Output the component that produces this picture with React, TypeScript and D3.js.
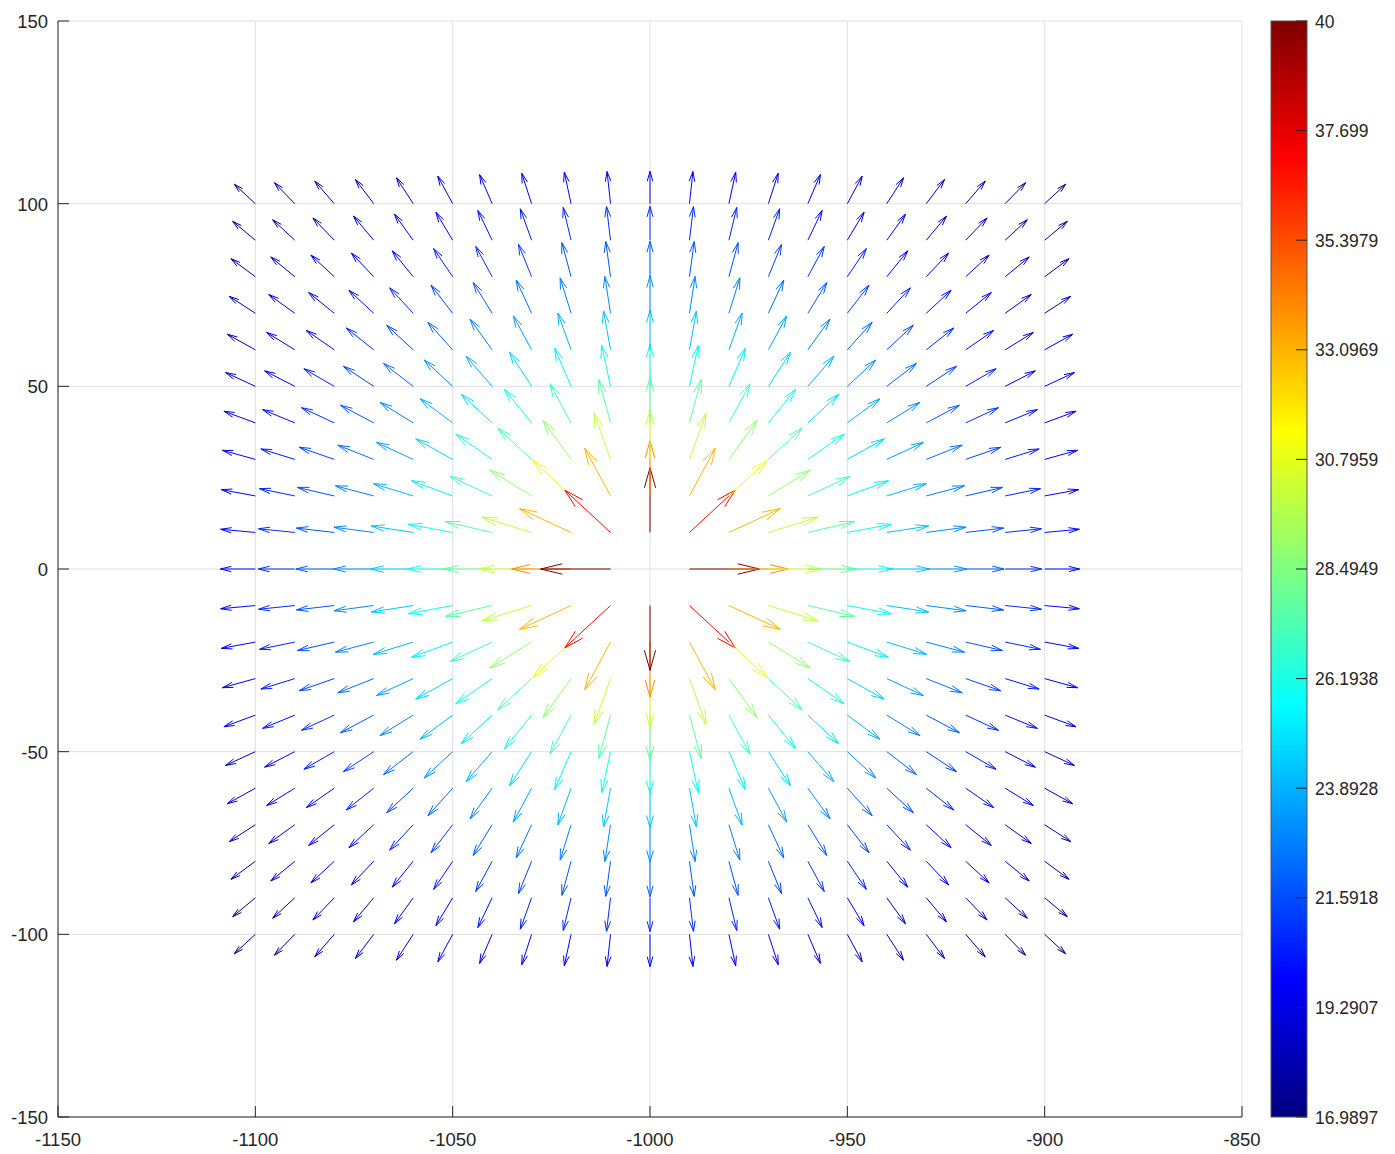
import React from 'react';
import * as d3 from 'd3';

// ---- data ----
const gridX = [-1100, -1090, -1080, -1070, -1060, -1050, -1040, -1030, -1020, -1010, -1000, -990, -980, -970, -960, -950, -940, -930, -920, -910, -900];
const gridY = [-100, -90, -80, -70, -60, -50, -40, -30, -20, -10, 0, 10, 20, 30, 40, 50, 60, 70, 80, 90, 100];
const sourceX = -1000;
const sourceY = 0;
const levelAtUnitDb = 60; // field level (dB) at unit distance, falls 20 dB / decade
const xTicks = [-1150, -1100, -1050, -1000, -950, -900, -850];
const yTicks = [-150, -100, -50, 0, 50, 100, 150];
const colorTicks = [16.9897, 19.2907, 21.5918, 23.8928, 26.1938, 28.4949, 30.7959, 33.0969, 35.3979, 37.699, 40];
const colorTickLabels = ['16.9897', '19.2907', '21.5918', '23.8928', '26.1938', '28.4949', '30.7959', '33.0969', '35.3979', '37.699', '40'];

// ---- layout ----
const W = 1395;
const H = 1154;
const plot = { left: 58, right: 1242, top: 21, bottom: 1117 };
const cbar = { left: 1271, right: 1307 };
const arrowScale = 0.443; // data units per dB
const headAlpha = 0.31;
const headBeta = 0.26;
const font = "'Liberation Sans', Arial, Helvetica, sans-serif";
const textColor = '#262626';

function jet(t: number): string {
  const c = (v: number) => Math.max(0, Math.min(1, v));
  const r = c(1.5 - Math.abs(4 * t - 3));
  const g = c(1.5 - Math.abs(4 * t - 2));
  const b = c(1.5 - Math.abs(4 * t - 1));
  return d3.rgb(Math.round(r * 255), Math.round(g * 255), Math.round(b * 255)).formatHex();
}

interface Arrow { x: number; y: number; u: number; v: number; db: number; }

function buildArrows(): Arrow[] {
  const out: Arrow[] = [];
  for (const x of gridX) {
    for (const y of gridY) {
      const dx = x - sourceX;
      const dy = y - sourceY;
      const r = Math.hypot(dx, dy);
      if (r === 0) continue;
      const db = levelAtUnitDb - 20 * Math.log10(r);
      out.push({ x, y, u: (db * dx) / r, v: (db * dy) / r, db });
    }
  }
  return out;
}

export default function App() {
  const xs = d3.scaleLinear().domain([-1150, -850]).range([plot.left, plot.right]);
  const ys = d3.scaleLinear().domain([-150, 150]).range([plot.bottom, plot.top]);
  const cmin = colorTicks[0];
  const cmax = colorTicks[colorTicks.length - 1];
  const cs = d3.scaleLinear().domain([cmin, cmax]).range([0, 1]).clamp(true);
  const cy = d3.scaleLinear().domain([cmin, cmax]).range([plot.bottom, plot.top]);
  const arrows = buildArrows();

  const nStops = 129;
  const stops = d3.range(nStops).map(i => i / (nStops - 1));

  return (
    <svg width={W} height={H} style={{ position: 'absolute', left: 0, top: 0, display: 'block', background: '#fff' }}>
      <defs>
        <linearGradient id="jetGrad" x1="0" y1="1" x2="0" y2="0">
          {stops.map((t, i) => (
            <stop key={i} offset={t} stopColor={jet(t)} />
          ))}
        </linearGradient>
      </defs>
      <rect x={0} y={0} width={W} height={H} fill="#fff" />
      {/* grid */}
      <g stroke="#dfdfdf" strokeWidth={1}>
        {xTicks.map(t => (
          <line key={'gx' + t} x1={xs(t)} x2={xs(t)} y1={plot.top} y2={plot.bottom} />
        ))}
        {yTicks.map(t => (
          <line key={'gy' + t} x1={plot.left} x2={plot.right} y1={ys(t)} y2={ys(t)} />
        ))}
      </g>
      {/* arrows */}
      <g fill="none" strokeWidth={1}>
        {arrows.map((a, i) => {
          const u = a.u * arrowScale;
          const v = a.v * arrowScale;
          const tx = a.x + u;
          const ty = a.y + v;
          const b1x = tx - headAlpha * (u + headBeta * v);
          const b1y = ty - headAlpha * (v - headBeta * u);
          const b2x = tx - headAlpha * (u - headBeta * v);
          const b2y = ty - headAlpha * (v + headBeta * u);
          const d = `M${xs(a.x)},${ys(a.y)}L${xs(tx)},${ys(ty)}M${xs(b1x)},${ys(b1y)}L${xs(tx)},${ys(ty)}L${xs(b2x)},${ys(b2y)}`;
          return <path key={i} d={d} stroke={jet(cs(a.db))} />;
        })}
      </g>
      {/* axes */}
      <g stroke={textColor} strokeWidth={1}>
        <line x1={plot.left} x2={plot.left} y1={plot.top} y2={plot.bottom} />
        <line x1={plot.left} x2={plot.right} y1={plot.bottom} y2={plot.bottom} />
        {xTicks.map(t => (
          <line key={'tx' + t} x1={xs(t)} x2={xs(t)} y1={plot.bottom} y2={plot.bottom - 11} />
        ))}
        {yTicks.map(t => (
          <line key={'ty' + t} x1={plot.left} x2={plot.left + 11} y1={ys(t)} y2={ys(t)} />
        ))}
      </g>
      <g fill={textColor} fontFamily={font} fontSize={18.5}>
        {xTicks.map(t => (
          <text key={'lx' + t} x={xs(t)} y={plot.bottom + 29} textAnchor="middle">{String(t)}</text>
        ))}
        {yTicks.map(t => (
          <text key={'ly' + t} x={plot.left - 10} y={ys(t) + 7} textAnchor="end">{String(t)}</text>
        ))}
      </g>
      {/* colorbar */}
      <rect x={cbar.left} y={plot.top} width={cbar.right - cbar.left} height={plot.bottom - plot.top} fill="url(#jetGrad)" stroke="#555" strokeWidth={1} />
      <g stroke={textColor} strokeWidth={1}>
        {colorTicks.map((t, i) => (
          <line key={'ct' + i} x1={cbar.right - 11} x2={cbar.right} y1={cy(t)} y2={cy(t)} />
        ))}
      </g>
      <g fill={textColor} fontFamily={font} fontSize={17.5}>
        {colorTicks.map((t, i) => (
          <text key={'cl' + i} x={cbar.right + 8} y={cy(t) + 6.5}>{colorTickLabels[i]}</text>
        ))}
      </g>
    </svg>
  );
}
